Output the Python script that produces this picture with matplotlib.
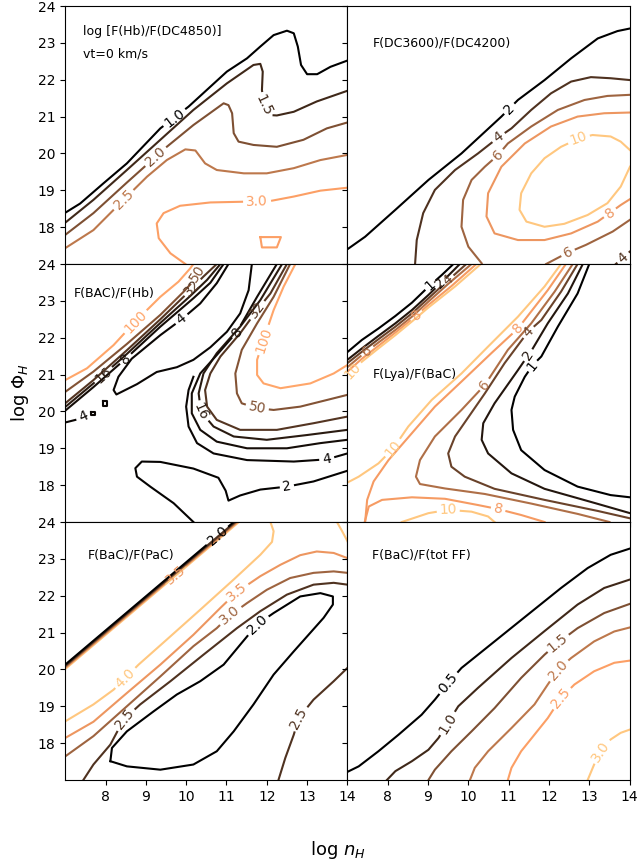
import numpy as np
import matplotlib.pyplot as plt
from matplotlib.colors import Normalize
from matplotlib.textpath import TextPath
from matplotlib.font_manager import FontProperties

# ---------------- data (log n_H, log Phi_H) ----------------
# panel 1: log [F(Hb)/F(DC4850)]
hb_10_x = [7.0, 7.37, 7.95, 8.53, 9.36, 10.06, 10.6, 11.01, 11.51, 11.84, 12.17, 12.5, 12.67, 12.77, 12.85, 13.0, 13.25, 13.58, 14.0]
hb_10_y = [18.39, 18.64, 19.19, 19.73, 20.68, 21.27, 21.81, 22.22, 22.58, 22.9, 23.21, 23.33, 23.26, 22.9, 22.4, 22.15, 22.15, 22.35, 22.52]
hb_15_x = [7.0, 7.7, 8.53, 9.36, 10.18, 11.01, 11.67, 11.84, 11.9, 11.88, 11.94, 12.09, 12.25, 12.67, 13.24, 14.0]
hb_15_y = [18.12, 18.74, 19.55, 20.37, 21.18, 21.9, 22.4, 22.43, 22.22, 21.72, 21.27, 21.04, 21.03, 21.13, 21.41, 21.7]
hb_20_x = [7.0, 7.7, 8.53, 9.52, 10.18, 10.93, 11.05, 11.14, 11.18, 11.3, 11.67, 12.25, 12.91, 13.49, 14.0]
hb_20_y = [17.79, 18.38, 19.21, 20.18, 20.77, 21.36, 21.31, 21.09, 20.55, 20.32, 20.23, 20.18, 20.37, 20.68, 20.84]
hb_25_x = [7.0, 7.7, 8.53, 9.03, 9.52, 9.98, 10.23, 10.47, 10.76, 11.43, 12.0, 12.67, 13.33, 14.0]
hb_25_y = [17.43, 17.92, 18.83, 19.37, 19.82, 20.11, 20.08, 19.73, 19.55, 19.46, 19.46, 19.6, 19.82, 19.96]
hb_30_x = [9.98, 9.61, 9.32, 9.27, 9.44, 9.85, 10.6, 11.43, 12.09, 12.67, 13.33, 14.0]
hb_30_y = [17.0, 17.29, 17.7, 18.1, 18.38, 18.58, 18.67, 18.69, 18.71, 18.83, 18.99, 19.07]
hb_30b_x = [11.84, 12.35, 12.25, 11.88, 11.84]
hb_30b_y = [17.73, 17.73, 17.45, 17.45, 17.73]

# panel 2: F(DC3600)/F(DC4200)
dc_2_x = [7.0, 7.44, 8.19, 9.01, 9.83, 10.82, 11.23, 11.89, 12.55, 13.21, 13.7, 14.01]
dc_2_y = [17.4, 17.74, 18.47, 19.28, 20.0, 21.0, 21.45, 21.99, 22.58, 23.12, 23.32, 23.39]
dc_4_x = [8.68, 8.72, 8.88, 9.17, 9.67, 10.24, 10.74, 11.07, 11.56, 12.05, 12.55, 13.04, 13.53, 14.01]
dc_4_y = [17.02, 17.65, 18.38, 19.01, 19.55, 20.0, 20.43, 20.68, 21.18, 21.63, 21.95, 22.07, 22.04, 21.99]
dc_4b_x = [14.01, 13.66]
dc_4b_y = [17.34, 17.0]
dc_6_x = [10.33, 10.0, 9.83, 9.87, 10.08, 10.41, 10.74, 10.98, 11.56, 12.22, 12.88, 13.45, 14.01]
dc_6_y = [17.02, 17.47, 18.01, 18.74, 19.28, 19.64, 19.96, 20.27, 20.73, 21.18, 21.45, 21.56, 21.59]
dc_6b_x = [14.01, 13.58, 12.92, 12.47, 11.93]
dc_6b_y = [18.2, 17.88, 17.52, 17.31, 17.0]
dc_8_x = [14.01, 13.37, 12.71, 12.05, 11.4, 10.82, 10.49, 10.45, 10.65, 11.23, 11.89, 12.55, 13.21, 13.78, 14.01]
dc_8_y = [21.11, 21.09, 21.0, 20.73, 20.27, 19.64, 18.92, 18.29, 17.83, 17.65, 17.65, 17.83, 18.15, 18.6, 18.76]
dc_10_x = [14.01, 13.78, 13.53, 13.08, 12.75, 12.3, 11.89, 11.56, 11.31, 11.27, 11.44, 11.89, 12.38, 12.96, 13.45, 13.78, 14.01]
dc_10_y = [20.09, 20.32, 20.46, 20.5, 20.41, 20.18, 19.87, 19.46, 18.92, 18.47, 18.15, 18.01, 18.09, 18.33, 18.65, 19.1, 19.64]

# panel 3: F(BAC)/F(Hb)
bh_100_x = [7.0, 7.54, 8.2, 8.74, 9.36, 9.81, 10.1, 10.18]
bh_100_y = [20.85, 21.17, 21.8, 22.44, 23.11, 23.52, 23.88, 24.0]
bh_50_x = [7.0, 7.7, 8.53, 9.36, 9.94, 10.14, 10.28, 10.43]
bh_50_y = [20.53, 21.08, 21.83, 22.62, 23.25, 23.49, 23.73, 24.0]
bh_32_x = [7.0, 7.7, 8.53, 9.36, 10.02, 10.43, 10.76]
bh_32_y = [20.22, 20.85, 21.66, 22.5, 23.2, 23.66, 24.0]
bh_16_x = [7.0, 7.7, 8.53, 9.36, 10.1, 10.52, 10.85]
bh_16_y = [20.12, 20.76, 21.56, 22.4, 23.13, 23.57, 24.0]
bh_8_x = [7.0, 7.7, 8.53, 9.36, 10.18, 10.6, 10.93]
bh_8_y = [20.02, 20.66, 21.46, 22.3, 23.07, 23.49, 24.0]
bh_4_x = [11.05, 10.76, 10.35, 9.89, 9.36, 8.65, 8.32, 8.2, 8.27, 8.78, 9.27, 9.77, 10.18, 10.6, 11.01, 11.34, 11.55, 11.63]
bh_4_y = [24.0, 23.48, 22.93, 22.5, 22.07, 21.43, 20.94, 20.58, 20.46, 20.74, 21.07, 21.2, 21.4, 21.74, 22.16, 22.66, 23.29, 24.0]
bh_4l_x = [7.0, 7.29, 7.5, 7.62]
bh_4l_y = [19.7, 19.78, 19.9, 19.96]
bh_sq1_x = [7.65, 7.75, 7.75, 7.65, 7.65]
bh_sq1_y = [19.99, 19.99, 19.89, 19.89, 19.99]
bh_sq2_x = [7.94, 8.04, 8.04, 7.94, 7.94]
bh_sq2_y = [20.27, 20.27, 20.16, 20.16, 20.27]
bh_r100_x = [12.71, 12.42, 12.17, 11.92, 11.76, 11.76, 11.92, 12.34, 13.08, 13.66, 14.0]
bh_r100_y = [24.0, 23.39, 22.75, 21.94, 21.4, 20.99, 20.76, 20.63, 20.76, 21.03, 21.26]
bh_r50_x = [12.58, 12.17, 11.76, 11.38, 11.22, 11.26, 11.38, 11.76, 12.17, 12.83, 13.49, 14.0]
bh_r50_y = [24.0, 23.11, 22.39, 21.67, 21.03, 20.49, 20.22, 20.09, 20.04, 20.13, 20.31, 20.45]
bh_r32_x = [12.5, 12.09, 11.76, 11.34, 10.85, 10.6, 10.47, 10.52, 10.76, 11.34, 12.25, 13.16, 14.0]
bh_r32_y = [24.0, 23.2, 22.75, 22.12, 21.49, 21.03, 20.58, 20.13, 19.77, 19.5, 19.5, 19.68, 19.86]
bh_r16_x = [12.38, 11.84, 11.34, 10.76, 10.43, 10.31, 10.37, 10.68, 11.18, 12.0, 13.0, 14.0]
bh_r16_y = [24.0, 23.02, 22.3, 21.58, 21.03, 20.49, 19.99, 19.59, 19.32, 19.23, 19.36, 19.5]
bh_r8_x = [12.25, 11.76, 11.26, 10.76, 10.35, 10.14, 10.14, 10.35, 10.76, 11.51, 12.5, 13.33, 14.0]
bh_r8_y = [24.0, 23.11, 22.16, 21.53, 21.03, 20.49, 19.95, 19.5, 19.18, 19.0, 19.0, 19.14, 19.23]
bh_r4_x = [14.0, 13.49, 12.67, 11.51, 10.68, 10.27, 10.06, 10.0, 10.06, 10.18]
bh_r4_y = [18.86, 18.7, 18.64, 18.68, 18.86, 19.14, 19.59, 20.13, 20.58, 20.94]
bh_2_x = [10.18, 9.69, 9.11, 8.78, 8.74, 8.9, 9.36, 10.18, 10.8, 10.98, 11.05, 11.34, 11.84, 12.5, 13.16, 14.0]
bh_2_y = [17.0, 17.51, 17.96, 18.23, 18.46, 18.64, 18.63, 18.45, 18.2, 17.85, 17.58, 17.72, 17.88, 17.96, 18.1, 18.39]

# panel 4: F(Lya)/F(BaC)
lya_1_x = [7.0, 7.36, 7.77, 8.19, 8.6, 8.97, 9.34, 9.63]
lya_1_y = [21.61, 21.94, 22.25, 22.59, 22.95, 23.34, 23.7, 24.0]
lya_2_x = [7.0, 7.36, 7.77, 8.19, 8.6, 9.01, 9.38, 9.79]
lya_2_y = [21.4, 21.71, 22.05, 22.39, 22.75, 23.16, 23.55, 24.0]
lya_4_x = [7.0, 7.36, 7.77, 8.19, 8.6, 9.01, 9.42, 9.95]
lya_4_y = [21.31, 21.62, 21.96, 22.3, 22.66, 23.07, 23.48, 24.0]
lya_6_x = [7.0, 7.36, 7.77, 8.19, 8.6, 9.01, 9.5, 10.08]
lya_6_y = [21.2, 21.53, 21.87, 22.21, 22.57, 22.98, 23.46, 24.0]
lya_8_x = [7.0, 7.36, 7.77, 8.19, 8.6, 9.01, 9.58, 10.2]
lya_8_y = [21.08, 21.43, 21.78, 22.14, 22.5, 22.89, 23.4, 24.0]
lya_10_x = [7.0, 7.36, 7.77, 8.19, 8.6, 9.01, 9.67, 10.31]
lya_10_y = [20.94, 21.35, 21.71, 22.07, 22.44, 22.82, 23.39, 24.0]
lya_r10_x = [12.3, 11.89, 11.23, 10.49, 9.83, 9.09, 8.51, 8.14, 7.77, 7.28, 7.0]
lya_r10_y = [24.0, 23.39, 22.57, 21.76, 21.03, 20.31, 19.59, 19.0, 18.59, 18.23, 18.07]
lya_r8_x = [12.42, 11.97, 11.23, 10.57, 9.83, 9.17, 8.6, 8.02, 7.65, 7.49, 7.44]
lya_r8_y = [24.0, 23.29, 22.25, 21.58, 20.81, 20.13, 19.41, 18.68, 18.1, 17.6, 17.0]
lya_r6_x = [12.59, 12.14, 11.56, 10.98, 10.41, 9.83, 9.17, 8.8, 8.7, 8.8, 9.42, 10.41, 11.56, 12.71, 13.5]
lya_r6_y = [24.0, 23.25, 22.39, 21.67, 20.72, 20.04, 19.32, 18.68, 18.23, 18.03, 17.91, 17.76, 17.5, 17.22, 17.0]
lya_r4_x = [12.71, 12.3, 11.81, 11.48, 10.9, 10.41, 9.67, 9.5, 9.58, 9.91, 10.65, 11.89, 13.21, 14.01]
lya_r4_y = [24.0, 23.25, 22.48, 22.16, 21.31, 20.49, 19.32, 18.86, 18.5, 18.23, 17.9, 17.6, 17.3, 17.1]
lya_r2_x = [12.84, 12.47, 11.97, 11.6, 11.23, 10.65, 10.37, 10.33, 10.49, 11.07, 11.89, 13.12, 14.01]
lya_r2_y = [24.0, 23.2, 22.39, 21.71, 21.12, 20.22, 19.68, 19.23, 18.86, 18.32, 17.9, 17.52, 17.24]
lya_r1_x = [13.0, 12.71, 12.22, 11.81, 11.6, 11.4, 11.15, 11.07, 11.11, 11.31, 11.89, 12.71, 13.53, 14.01]
lya_r1_y = [24.0, 23.2, 22.3, 21.49, 21.26, 20.94, 20.4, 20.04, 19.5, 18.95, 18.41, 17.96, 17.73, 17.67]
lya_b8_x = [7.43, 7.53, 7.86, 8.6, 9.42, 10.24, 10.74, 11.31, 11.89]
lya_b8_y = [17.0, 17.42, 17.6, 17.67, 17.63, 17.46, 17.35, 17.19, 17.0]
lya_b10_x = [8.35, 9.01, 9.5, 10.08, 10.49, 10.65]
lya_b10_y = [17.0, 17.24, 17.33, 17.28, 17.15, 17.0]

# panel 5: F(BaC)/F(PaC)
pac_band_x = [7.0, 11.3]
pac_band20_y = [20.13, 24.11]
pac_band25_y = [20.1, 24.08]
pac_band30_y = [20.07, 24.05]
pac_band35_y = [20.04, 24.02]
pac_band40_y = [20.01, 23.99]
pac_40_x = [7.0, 7.7, 8.2, 8.82, 9.52, 10.35, 11.18, 11.84, 12.13, 12.17, 12.09]
pac_40_y = [18.59, 19.05, 19.45, 20.13, 20.81, 21.62, 22.44, 23.11, 23.46, 23.75, 24.0]
pac_40b_x = [13.74, 13.87, 14.0]
pac_40b_y = [24.0, 23.75, 23.48]
pac_35_x = [7.0, 7.7, 8.53, 9.36, 10.18, 10.85, 11.26, 11.84, 12.34, 12.83, 13.24, 13.66, 14.0]
pac_35_y = [18.14, 18.58, 19.36, 20.13, 20.94, 21.67, 22.1, 22.53, 22.84, 23.1, 23.2, 23.16, 23.02]
pac_30_x = [7.0, 7.7, 8.53, 9.36, 10.18, 10.76, 11.09, 11.51, 12.0, 12.58, 13.16, 13.66, 14.0]
pac_30_y = [17.64, 18.19, 19.0, 19.81, 20.63, 21.12, 21.47, 21.8, 22.16, 22.48, 22.62, 22.66, 22.62]
pac_25_x = [7.45, 7.7, 8.12, 8.45, 8.86, 9.61, 10.43, 11.26, 11.84, 12.5, 13.16, 13.66, 14.0]
pac_25_y = [17.0, 17.42, 17.96, 18.64, 19.05, 19.68, 20.4, 21.12, 21.58, 22.03, 22.3, 22.35, 22.3]
pac_25b_x = [12.29, 12.46, 12.67, 12.79, 13.16, 13.66, 14.0]
pac_25b_y = [17.0, 17.6, 18.23, 18.68, 19.18, 19.68, 20.04]
pac_20_x = [8.12, 8.16, 8.53, 9.19, 9.77, 10.35, 10.93, 11.34, 11.76, 12.17, 12.83, 13.33, 13.64, 13.64, 13.41, 12.67, 12.17, 11.67, 11.18, 10.76, 10.18, 9.36, 8.53, 8.12]
pac_20_y = [17.51, 17.87, 18.32, 18.86, 19.32, 19.68, 20.13, 20.67, 21.22, 21.53, 21.98, 22.07, 21.98, 21.76, 21.4, 20.49, 19.86, 19.05, 18.32, 17.78, 17.42, 17.28, 17.37, 17.51]

# panel 6: F(BaC)/F(tot FF)
ff_05_x = [7.0, 7.28, 7.77, 8.27, 8.84, 9.17, 9.5, 9.83, 10.65, 11.48, 12.3, 12.96, 13.53, 14.01]
ff_05_y = [17.22, 17.37, 17.78, 18.23, 18.77, 19.18, 19.63, 20.04, 20.76, 21.49, 22.21, 22.75, 23.11, 23.28]
ff_10_x = [7.98, 8.19, 8.6, 9.01, 9.26, 9.75, 10.24, 11.07, 11.89, 12.71, 13.37, 14.01]
ff_10_y = [17.0, 17.24, 17.51, 17.82, 18.14, 19.0, 19.5, 20.31, 21.04, 21.76, 22.21, 22.44]
ff_15_x = [9.01, 9.17, 9.58, 10.08, 10.65, 11.31, 11.89, 12.22, 12.71, 13.37, 14.01]
ff_15_y = [17.0, 17.28, 17.78, 18.32, 18.95, 19.77, 20.4, 20.72, 21.12, 21.53, 21.78]
ff_20_x = [10.04, 10.16, 10.49, 11.07, 11.64, 11.97, 12.22, 12.55, 13.12, 13.62, 14.01]
ff_20_y = [17.0, 17.33, 17.78, 18.41, 19.05, 19.59, 19.99, 20.31, 20.76, 21.03, 21.14]
ff_25_x = [10.98, 11.07, 11.31, 11.64, 11.97, 12.3, 12.63, 13.12, 13.62, 14.01]
ff_25_y = [17.0, 17.33, 17.78, 18.23, 18.68, 19.23, 19.59, 19.95, 20.18, 20.24]
ff_30_x = [12.96, 13.12, 13.29, 13.53, 13.78, 14.01]
ff_30_y = [17.0, 17.42, 17.78, 18.1, 18.28, 18.37]

titles = ["log [F(Hb)/F(DC4850)]\nvt=0 km/s", "F(DC3600)/F(DC4200)", "F(BAC)/F(Hb)",
          "F(Lya)/F(BaC)", "F(BaC)/F(PaC)", "F(BaC)/F(tot FF)"]
title_pos = [(7.45, 23.0), (7.62, 23.0), (7.2, 23.21), (7.62, 20.99), (7.55, 23.1), (7.62, 23.1)]
color_range = [(1.0, 3.5), (2, 10), (0, 120), (1, 10), (2.0, 4.0), (0.5, 3.0)]

# each entry: x, y, level, label text, label position
panels = [
    [(hb_10_x, hb_10_y, 1.0, "1.0", (9.7, 20.98)),
     (hb_15_x, hb_15_y, 1.5, "1.5", (11.94, 21.3)),
     (hb_20_x, hb_20_y, 2.0, "2.0", (9.23, 19.93)),
     (hb_25_x, hb_25_y, 2.5, "2.5", (8.45, 18.74)),
     (hb_30_x, hb_30_y, 3.0, "3.0", (11.76, 18.69)),
     (hb_30b_x, hb_30b_y, 3.0, None, None)],
    [(dc_2_x, dc_2_y, 2, "2", (10.98, 21.25)),
     (dc_4_x, dc_4_y, 4, "4", (10.75, 20.43)),
     (dc_4b_x, dc_4b_y, 4, "4", (13.84, 17.17)),
     (dc_6_x, dc_6_y, 6, "6", (10.74, 19.96)),
     (dc_6b_x, dc_6b_y, 6, "6", (12.47, 17.31)),
     (dc_8_x, dc_8_y, 8, "8", (13.49, 18.42)),
     (dc_10_x, dc_10_y, 10, "10", (12.75, 20.37))],
    [(bh_100_x, bh_100_y, 100, "100", (8.74, 22.44)),
     (bh_50_x, bh_50_y, 50, "50", (10.28, 23.73)),
     (bh_32_x, bh_32_y, 32, "32", (10.18, 23.34)),
     (bh_16_x, bh_16_y, 16, "16", (7.95, 20.99)),
     (bh_8_x, bh_8_y, 8, "8", (8.6, 21.3)),
     (bh_4_x, bh_4_y, 4, "4", (9.89, 22.5)),
     (bh_4l_x, bh_4l_y, 4, "4", (7.45, 19.86)),
     (bh_sq1_x, bh_sq1_y, 4, None, None),
     (bh_sq2_x, bh_sq2_y, 4, None, None),
     (bh_r100_x, bh_r100_y, 100, "100", (11.92, 21.94)),
     (bh_r50_x, bh_r50_y, 50, "50", (11.76, 20.09)),
     (bh_r32_x, bh_r32_y, 32, "32", (11.76, 22.75)),
     (bh_r16_x, bh_r16_y, 16, "16", (10.37, 19.99)),
     (bh_r8_x, bh_r8_y, 8, "8", (11.26, 22.16)),
     (bh_r4_x, bh_r4_y, 4, "4", (13.49, 18.7)),
     (bh_2_x, bh_2_y, 2, "2", (12.5, 17.96))],
    [(lya_1_x, lya_1_y, 1, "1", (9.01, 23.49)),
     (lya_2_x, lya_2_y, 2, "2", (9.3, 23.49)),
     (lya_4_x, lya_4_y, 4, "4", (9.54, 23.49)),
     (lya_6_x, lya_6_y, 6, "6", (7.57, 21.53)),
     (lya_8_x, lya_8_y, 8, "8", (8.72, 22.59)),
     (lya_10_x, lya_10_y, 10, "10", (7.24, 20.99)),
     (lya_r10_x, lya_r10_y, 10, "10", (8.14, 19.0)),
     (lya_r8_x, lya_r8_y, 8, "8", (11.23, 22.25)),
     (lya_r6_x, lya_r6_y, 6, "6", (10.41, 20.72)),
     (lya_r4_x, lya_r4_y, 4, "4", (11.48, 22.16)),
     (lya_r2_x, lya_r2_y, 2, "2", (11.48, 21.53)),
     (lya_r1_x, lya_r1_y, 1, "1", (11.6, 21.23)),
     (lya_b8_x, lya_b8_y, 8, "8", (10.74, 17.35)),
     (lya_b10_x, lya_b10_y, 10, "10", (9.5, 17.33))],
    [(pac_band_x, pac_band40_y, 4.0, None, None),
     (pac_band_x, pac_band35_y, 3.5, "3.5", (9.69, 22.62)),
     (pac_band_x, pac_band30_y, 3.0, None, None),
     (pac_band_x, pac_band25_y, 2.5, None, None),
     (pac_band_x, pac_band20_y, 2.0, "2.0", (10.68, 23.75)),
     (pac_40_x, pac_40_y, 4.0, "4.0", (8.49, 19.77)),
     (pac_40b_x, pac_40b_y, 4.0, None, None),
     (pac_35_x, pac_35_y, 3.5, "3.5", (11.26, 22.1)),
     (pac_30_x, pac_30_y, 3.0, "3.0", (11.09, 21.47)),
     (pac_25_x, pac_25_y, 2.5, "2.5", (8.45, 18.68)),
     (pac_25b_x, pac_25b_y, 2.5, "2.5", (12.79, 18.68)),
     (pac_20_x, pac_20_y, 2.0, "2.0", (11.76, 21.22))],
    [(ff_05_x, ff_05_y, 0.5, "0.5", (9.5, 19.63)),
     (ff_10_x, ff_10_y, 1.0, "1.0", (9.46, 18.55)),
     (ff_15_x, ff_15_y, 1.5, "1.5", (12.22, 20.72)),
     (ff_20_x, ff_20_y, 2.0, "2.0", (12.22, 19.99)),
     (ff_25_x, ff_25_y, 2.5, "2.5", (12.3, 19.23)),
     (ff_30_x, ff_30_y, 3.0, "3.0", (13.29, 17.78))],
]

LW = 1.5
FS = 10
cmap = plt.get_cmap("copper")
label_font = FontProperties(family="DejaVu Sans", size=FS)

fig = plt.figure(figsize=(6.37, 8.64), dpi=100)


def contour_line(ax, xs, ys, color, text=None, at=None):
    if text is None:
        ax.plot(xs, ys, color=color, lw=LW)
        return
    pts = ax.transData.transform(np.column_stack([xs, ys]))
    seg_len = np.hypot(*np.diff(pts, axis=0).T)
    s = np.concatenate([[0.0], np.cumsum(seg_len)])
    target = ax.transData.transform(at)
    best_s, best_d = 0.0, np.inf
    for i in range(len(pts) - 1):
        a, b = pts[i], pts[i + 1]
        ab = b - a
        t = np.clip(np.dot(target - a, ab) / max(np.dot(ab, ab), 1e-9), 0, 1)
        d = np.hypot(*(a + t * ab - target))
        if d < best_d:
            best_d, best_s = d, s[i] + t * seg_len[i]
    width = TextPath((0, 0), text, prop=label_font).get_extents().width * fig.dpi / 72
    half = width / 2 + 5
    s0, s1 = max(best_s - half, 0), min(best_s + half, s[-1])

    def point(v):
        return np.array([np.interp(v, s, pts[:, 0]), np.interp(v, s, pts[:, 1])])

    inv = ax.transData.inverted()
    for piece in (np.vstack([pts[s < s0], point(s0)]), np.vstack([point(s1), pts[s > s1]])):
        if len(piece) > 1:
            d = inv.transform(piece)
            ax.plot(d[:, 0], d[:, 1], color=color, lw=LW)
    p0, p1 = point(s0), point(s1)
    ang = np.degrees(np.arctan2(p1[1] - p0[1], p1[0] - p0[0]))
    if ang > 90:
        ang -= 180
    elif ang < -90:
        ang += 180
    cx, cy = inv.transform(point(best_s))
    ax.text(cx, cy, text, rotation=ang, rotation_mode="anchor", ha="center", va="center",
            color=color, fontsize=FS)


left, w = 65.2 / 637, 282.2 / 637
h = 258 / 864
bottoms = [1 - 264 / 864, 1 - 522 / 864, 1 - 780 / 864]

for k, lines in enumerate(panels):
    r, c = divmod(k, 2)
    ax = fig.add_axes([left + c * w, bottoms[r], w, h])
    ax.set_xlim(7, 14)
    ax.set_ylim(17, 24)
    ax.set_xticks(range(8, 15))
    ax.set_yticks(range(18, 25))
    ax.tick_params(labelbottom=(r == 2), labelleft=(c == 0), labelsize=10)
    norm = Normalize(*color_range[k])
    for xs, ys, level, text, at in lines:
        contour_line(ax, xs, ys, cmap(norm(level)), text, at)
    tx, ty = title_pos[k]
    ax.text(tx, ty, titles[k], fontsize=9, va="center", ha="left", linespacing=1.9)

fig.text(338 / 637, 1 - 850 / 864, "log $n_H$", ha="center", va="center", fontsize=13)
fig.text(20 / 637, 1 - 393 / 864, r"log $\Phi_H$", ha="center", va="center", rotation=90, fontsize=13)

fig.savefig("out.png", dpi=100)
